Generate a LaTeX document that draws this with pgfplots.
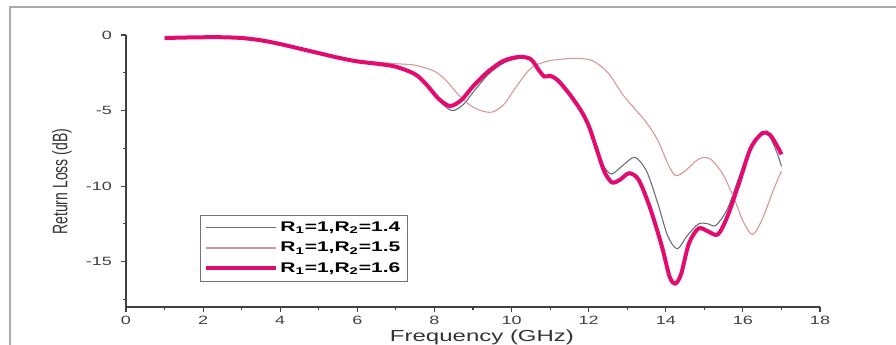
\documentclass[border=0pt]{standalone}
\usepackage{fontspec}
\setmainfont{Liberation Sans}
\usepackage{graphicx}
\usepackage{pgfplots}
\pgfplotsset{compat=1.18}

\definecolor{rmag}{RGB}{226,12,112}
\definecolor{rgray}{RGB}{105,108,118}
\definecolor{rlight}{RGB}{214,150,150}
\definecolor{framegray}{RGB}{170,170,170}

\newcommand{\wide}[1]{\scalebox{1.5}[1]{#1}}

\begin{document}
\begin{tikzpicture}
\useasboundingbox (0,0) rectangle (672pt,258.75pt);
% page frame
\draw[framegray, line width=1.1pt] (7.5pt,0) -- (7.5pt,253.5pt) -- (672pt,253.5pt);

\begin{axis}[
  at={(94.5pt,28.5pt)}, anchor=south west,
  scale only axis, width=520.5pt, height=204pt,
  xmin=0, xmax=18, ymin=-18, ymax=0,
  axis x line*=bottom, axis y line*=left,
  axis line style={-, black!75, line width=0.9pt},
  tick style={black!75, line width=0.8pt},
  tick align=outside,
  major tick length=4pt, minor tick length=2.5pt,
  xtick={0,2,...,18}, minor xtick={1,3,...,17},
  ytick={-15,-10,-5,0}, minor ytick={-17.5,-12.5,-7.5,-2.5},
  xticklabel={\wide{\pgfmathprintnumber[assume math mode=true]{\tick}}},
  yticklabels={\wide{-15},\wide{-10},\wide{-5},\wide{0}},
  tick label style={font=\fontsize{9}{10}\selectfont, text=black!75},
  yticklabel style={xshift=-3pt},
  xticklabel style={yshift=0.5pt},
  xlabel={\wide{Frequency (GHz)}},
  ylabel={\scalebox{1}[1.5]{Return Loss (dB)}},
  every axis x label/.style={at={(rel axis cs:0.5,0)}, anchor=center,
    xshift=6.75pt, yshift=-23pt, font=\fontsize{12}{13}\selectfont, text=black!80},
  every axis y label/.style={at={(rel axis cs:0,0.5)}, anchor=center,
    xshift=-48pt, yshift=-8pt, rotate=90, font=\fontsize{10.5}{12}\selectfont, text=black!80},
  legend style={at={(axis cs:1.92,-11.9)}, anchor=north west,
    draw=black!55, line width=0.6pt, font=\fontsize{10.5}{12}\selectfont,
    row sep=2.5pt, inner xsep=3pt, inner ysep=3pt},
  legend cell align=left,
  legend image code/.code={\draw[#1] (0pt,0pt) -- (52pt,0pt);},
]

% R1=1, R2=1.4
\addplot[rgray, line width=0.8pt, smooth] coordinates {
(1.0,-0.20) (1.5,-0.17) (2.0,-0.15) (2.5,-0.15) (3.0,-0.20) (3.5,-0.35)
(4.0,-0.60) (4.5,-0.90) (5.0,-1.20) (5.5,-1.50) (6.0,-1.75) (6.5,-1.90)
(7.0,-2.10) (7.5,-2.55) (7.8,-3.30) (8.1,-4.30) (8.45,-5.00) (8.75,-4.60)
(9.0,-3.80) (9.4,-2.60) (9.8,-1.85) (10.2,-1.55) (10.5,-1.65) (10.7,-2.30)
(10.85,-2.80) (11.0,-2.75) (11.2,-3.00) (11.5,-3.80) (11.8,-5.00) (12.0,-6.00)
(12.2,-7.40) (12.4,-8.70) (12.6,-9.20) (12.9,-8.60) (13.2,-8.10) (13.5,-9.00)
(13.8,-11.20) (14.05,-13.30) (14.3,-14.15) (14.55,-13.30) (14.85,-12.50)
(15.1,-12.50) (15.3,-12.60) (15.6,-11.50) (15.9,-9.40) (16.2,-7.40)
(16.5,-6.50) (16.7,-6.75) (16.9,-7.90) (17.0,-8.70)
};
\addlegendentry{\wide{\textbf{R\textsubscript{1}=1,R\textsubscript{2}=1.4}}}

% R1=1, R2=1.5
\addplot[rlight, line width=0.8pt, smooth] coordinates {
(1.0,-0.20) (1.5,-0.17) (2.0,-0.15) (2.5,-0.15) (3.0,-0.20) (3.5,-0.35)
(4.0,-0.60) (4.5,-0.88) (5.0,-1.15) (5.5,-1.45) (6.0,-1.68) (6.5,-1.80)
(7.0,-1.90) (7.5,-2.00) (8.0,-2.40) (8.3,-3.00) (8.6,-3.90) (8.9,-4.60)
(9.2,-5.00) (9.5,-5.10) (9.8,-4.60) (10.1,-3.50) (10.5,-2.20) (10.9,-1.75)
(11.3,-1.60) (11.7,-1.55) (12.1,-1.70) (12.5,-2.50) (12.9,-4.00) (13.2,-4.90)
(13.5,-5.80) (13.8,-7.00) (14.05,-8.50) (14.25,-9.30) (14.5,-9.00)
(14.8,-8.30) (15.0,-8.10) (15.2,-8.30) (15.5,-9.30) (15.8,-11.00)
(16.0,-12.30) (16.25,-13.20) (16.5,-12.20) (16.8,-10.20) (17.0,-9.00)
};
\addlegendentry{\wide{\textbf{R\textsubscript{1}=1,R\textsubscript{2}=1.5}}}

% R1=1, R2=1.6
\addplot[rmag, line width=3pt, smooth] coordinates {
(1.0,-0.20) (1.5,-0.17) (2.0,-0.15) (2.5,-0.15) (3.0,-0.20) (3.5,-0.35)
(4.0,-0.60) (4.5,-0.90) (5.0,-1.20) (5.5,-1.50) (6.0,-1.75) (6.5,-1.90)
(7.0,-2.10) (7.5,-2.60) (7.8,-3.30) (8.1,-4.20) (8.4,-4.70) (8.7,-4.30)
(9.0,-3.40) (9.4,-2.40) (9.8,-1.70) (10.2,-1.45) (10.5,-1.60) (10.7,-2.30)
(10.85,-2.75) (11.0,-2.70) (11.2,-3.00) (11.5,-3.90) (11.8,-5.00) (12.0,-6.00)
(12.2,-7.50) (12.4,-9.00) (12.6,-9.75) (12.8,-9.60) (13.05,-9.15) (13.3,-9.60)
(13.6,-11.50) (13.9,-14.00) (14.1,-16.00) (14.25,-16.45) (14.4,-15.80)
(14.6,-13.80) (14.85,-12.80) (15.1,-13.00) (15.35,-13.20) (15.6,-12.00)
(15.9,-9.80) (16.2,-7.50) (16.5,-6.50) (16.7,-6.60) (16.9,-7.40) (17.0,-7.90)
};
\addlegendentry{\wide{\textbf{R\textsubscript{1}=1,R\textsubscript{2}=1.6}}}

\end{axis}
\end{tikzpicture}
\end{document}
